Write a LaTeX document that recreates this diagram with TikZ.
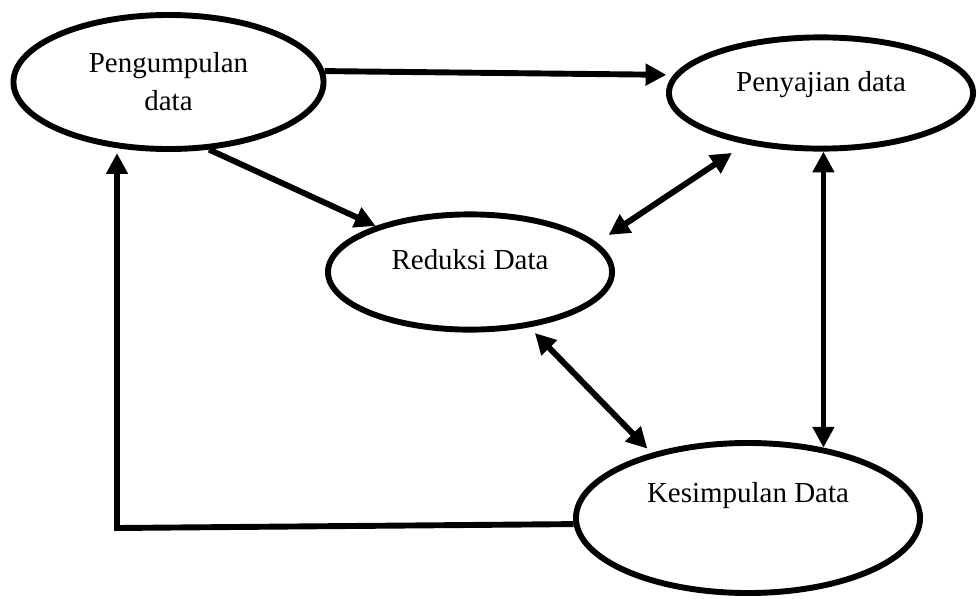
\documentclass[tikz,border=0pt]{standalone}
\usepackage{fontspec}
\setmainfont{Liberation Serif}
\usetikzlibrary{arrows.meta,shapes.geometric}

\begin{document}
\begin{tikzpicture}[x=0.025cm, y=-0.025cm, >={Triangle[length=0.52cm,width=0.52cm]},
  oval/.style={ellipse, draw, line width=4.2pt, inner sep=0pt},
  teks/.style={font=\fontsize{20.6}{27}\selectfont, align=center},
  panah/.style={line width=4.2pt}]
  \useasboundingbox (0,0) rectangle (977,598);

  % the four stages
  \node[oval, minimum width=7.75cm, minimum height=3.35cm] (kumpul) at (168.5,82) {};
  \node[oval, minimum width=7.6cm, minimum height=2.78cm] (saji) at (821,93) {};
  \node[oval, minimum width=7.1cm, minimum height=2.88cm] (reduksi) at (470,272) {};
  \node[oval, minimum width=8.6cm, minimum height=3.75cm] (simpul) at (748,518) {};

  % texts, set a bit above the centres
  \node[teks] (kumpul-t) at (kumpul) {Pengumpulan\\data};
  \node[teks, yshift=0.22cm] (saji-t) at (saji) {Penyajian data};
  \node[teks, yshift=0.31cm] (reduksi-t) at (reduksi) {Reduksi Data};
  \node[teks, yshift=0.57cm] (simpul-t) at (simpul) {Kesimpulan Data};

  % connectors
  \draw[panah, ->, shorten >=0.18cm] (kumpul.4) -- (saji.173);
  \draw[panah, ->] (kumpul.-59) -- (reduksi.154);
  \draw[panah, <->, shorten <=0.35cm, shorten >=0.4cm] (reduksi.13) -- (saji.-146);
  \draw[panah, <->, shorten <=0.2cm, shorten >=0.15cm] (reduksi.-43) -- (simpul.146);
  \draw[panah, <->] (simpul.43) -- (simpul.43 |- saji.south);

  % back to the start
  \coordinate (belok) at (117,528);
  \draw[panah, ->, shorten >=0.125cm] (simpul.182) -- (belok) -- (belok |- kumpul.-128);
\end{tikzpicture}
\end{document}
